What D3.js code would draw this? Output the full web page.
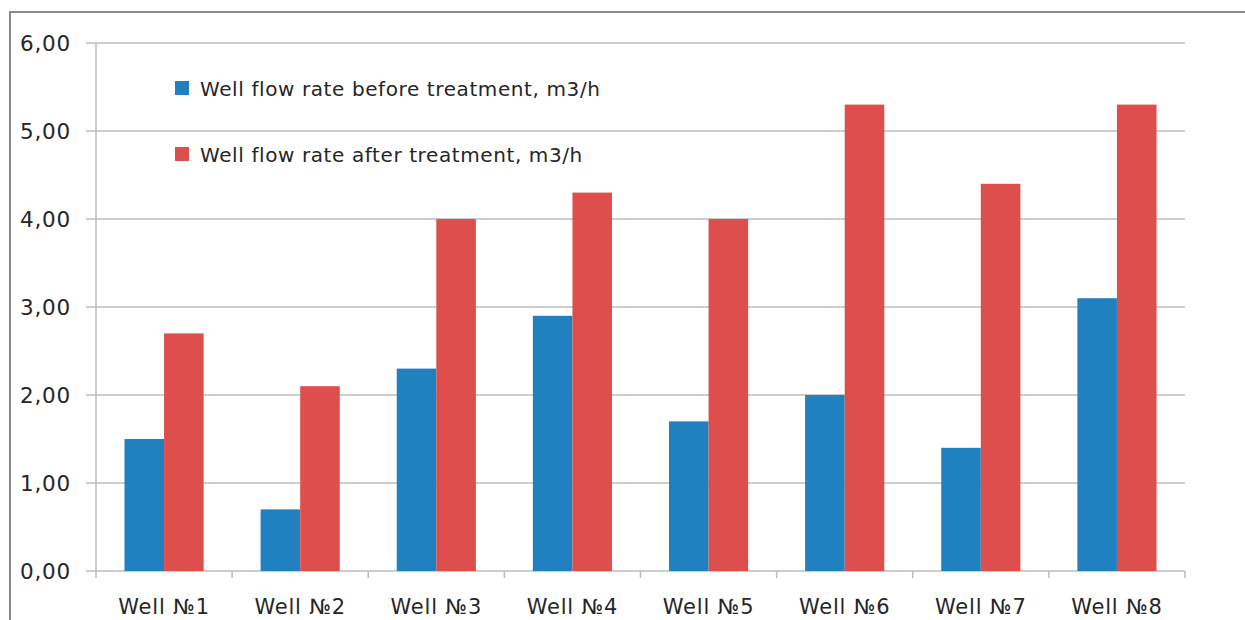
<!DOCTYPE html>
<html><head><meta charset="utf-8">
<script src="https://cdn.jsdelivr.net/npm/d3@7"></script>
<style>body{margin:0;background:#fff}svg{display:block}</style>
</head><body>
<svg id="c" width="1245" height="620"></svg>
<script>
const categories = ["Well №1","Well №2","Well №3","Well №4","Well №5","Well №6","Well №7","Well №8"];
const before = [1.5, 0.7, 2.3, 2.9, 1.7, 2.0, 1.4, 3.1];
const after = [2.7, 2.1, 4.0, 4.3, 4.0, 5.3, 4.4, 5.3];
const seriesNames = ["Well flow rate before treatment, m3/h","Well flow rate after treatment, m3/h"];
const yTicks = [0,1,2,3,4,5,6];

const colors = ["#2180c0","#dd4e4c"];
const svg = d3.select("#c");
const font = "'DejaVu Sans', Verdana, sans-serif";
const pL = 96, pR = 1185, pT = 43, pB = 571;

// outer frame
svg.append("rect").attr("x",10).attr("y",12).attr("width",1250).attr("height",620)
  .attr("fill","none").attr("stroke","#8a8a8a").attr("stroke-width",2);

const x = d3.scaleBand().domain(categories).range([pL,pR]).paddingInner(0).paddingOuter(0);
const y = d3.scaleLinear().domain([0,6]).range([pB,pT]);
const xs = d3.scaleBand().domain([0,1]).range([0,x.bandwidth()]).paddingInner(0).paddingOuter(0.72);

// gridlines
const g = svg.append("g");
g.selectAll("line.grid").data(yTicks).join("line")
  .attr("x1",pL-10).attr("x2",pR).attr("y1",d=>y(d)).attr("y2",d=>y(d))
  .attr("stroke","#bdbdbd").attr("stroke-width",1.5);

// y labels
g.selectAll("text.yl").data(yTicks).join("text")
  .attr("x",71).attr("y",d=>y(d)).attr("dy","0.36em").attr("text-anchor","end")
  .attr("font-family",font).attr("font-size",21.5).attr("letter-spacing",0.8).attr("fill","#262626")
  .text(d=>d3.format(".2f")(d).replace(".",","));

// bars
const data = categories.map((c,i)=>({c, v:[before[i],after[i]]}));
const grp = svg.append("g").selectAll("g").data(data).join("g")
  .attr("transform",d=>`translate(${x(d.c)},0)`);
grp.selectAll("rect").data(d=>d.v.map((v,k)=>({v,k}))).join("rect")
  .attr("x",d=>xs(d.k)).attr("width",xs.bandwidth())
  .attr("y",d=>y(d.v)).attr("height",d=>y(0)-y(d.v))
  .attr("fill",d=>colors[d.k]);

// axis lines
svg.append("line").attr("x1",pL).attr("x2",pL).attr("y1",pT).attr("y2",pB)
  .attr("stroke","#bdbdbd").attr("stroke-width",1.5);
const bounds = categories.map(c=>x(c)).concat([pR]);
svg.selectAll("line.xt").data(bounds).join("line")
  .attr("x1",d=>d).attr("x2",d=>d).attr("y1",pB).attr("y2",pB+7)
  .attr("stroke","#bdbdbd").attr("stroke-width",1.5);

// x labels
svg.selectAll("text.xl").data(categories).join("text")
  .attr("x",d=>x(d)+x.bandwidth()/2).attr("y",614).attr("text-anchor","middle")
  .attr("font-family",font).attr("font-size",21).attr("letter-spacing",0.8).attr("fill","#262626")
  .text(d=>d);

// legend
const lg = svg.append("g").selectAll("g").data(seriesNames).join("g")
  .attr("transform",(d,i)=>`translate(175,${81+i*66})`);
lg.append("rect").attr("width",14).attr("height",14).attr("fill",(d,i)=>colors[i]);
lg.append("text").attr("x",25).attr("y",15).attr("font-family",font).attr("font-size",20)
  .attr("letter-spacing",0.6).attr("fill","#262626").text(d=>d);
</script>
</body></html>
